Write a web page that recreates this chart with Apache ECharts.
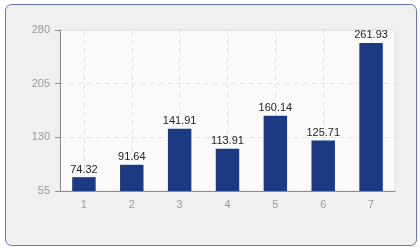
<!DOCTYPE html>
<html>
<head>
<meta charset="utf-8">
<script src="https://cdn.jsdelivr.net/npm/echarts@6/dist/echarts.min.js"></script>
<style>
html,body{margin:0;padding:0;background:#fff;}
#chart{width:420px;height:250px;}
</style>
</head>
<body>
<div id="chart"></div>
<script>
var categories = ['1', '2', '3', '4', '5', '6', '7'];
var values = [74.32, 91.64, 141.91, 113.91, 160.14, 125.71, 261.93];
var yTicks = [55, 130, 205, 280];

var hatch = document.createElement('canvas');
hatch.width = 4; hatch.height = 4;
var hc = hatch.getContext('2d');
hc.fillStyle = '#ffffff';
hc.fillRect(0, 0, 4, 4);
hc.fillStyle = '#f2f2f2';
for (var i = 0; i < 4; i++) { hc.fillRect(i, 3 - i, 1, 1); }

var chart = echarts.init(document.getElementById('chart'), null, {renderer: 'canvas'});
chart.setOption({
  animation: false,
  backgroundColor: '#ffffff',
  textStyle: {fontFamily: 'Liberation Sans'},
  graphic: [{
    type: 'rect', z: -10, left: 5, top: 4,
    shape: {width: 411, height: 241, r: 6},
    style: {fill: '#f0f0f0', stroke: '#6476ad', lineWidth: 1}
  }],
  grid: {
    left: 60, right: 25, top: 30, bottom: 59,
    show: true, backgroundColor: {image: hatch, repeat: 'repeat'},
    borderColor: '#dedede', borderWidth: 1
  },
  xAxis: {
    type: 'category', data: categories,
    axisLine: {lineStyle: {color: '#8c8c8c'}},
    axisTick: {alignWithLabel: true, length: 5, lineStyle: {color: '#8c8c8c'}},
    axisLabel: {color: '#9a9a9a', fontSize: 11, margin: 8},
    splitLine: {show: true, alignWithLabel: true, lineStyle: {color: '#e2e2e2', type: [5, 4]}}
  },
  yAxis: {
    type: 'value', min: 55, max: 280,
    axisLine: {show: true, lineStyle: {color: '#8c8c8c'}},
    axisTick: {show: true, length: 5, customValues: yTicks, lineStyle: {color: '#8c8c8c'}},
    axisLabel: {color: '#9a9a9a', fontSize: 11, margin: 10, customValues: yTicks},
    splitLine: {show: true, lineStyle: {color: '#e2e2e2', type: [5, 4]}}
  },
  series: [{
    type: 'bar', data: values, barWidth: '49%',
    itemStyle: {color: '#1b3a82'},
    label: {show: true, position: 'top', distance: 2, color: '#222', fontSize: 11,
      formatter: function (p) { return p.value.toFixed(2); }}
  }]
});
</script>
</body>
</html>
